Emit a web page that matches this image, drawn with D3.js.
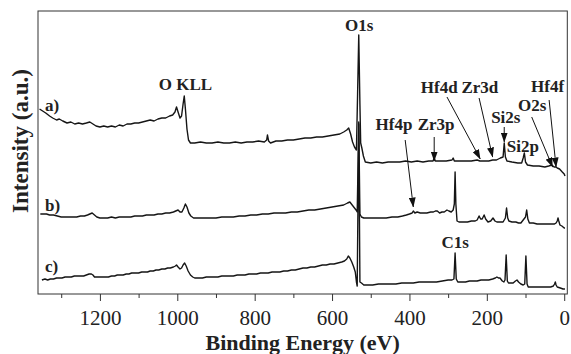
<!DOCTYPE html>
<html>
<head>
<meta charset="utf-8">
<script src="https://cdn.jsdelivr.net/npm/d3@7"></script>
<style>
  body { margin: 0; background: #fff; }
  svg { display: block; }
  .axis text { font-family: "Liberation Serif", "Times New Roman", serif; fill: #222; }
  .lbl { font-family: "Liberation Serif", "Times New Roman", serif; font-weight: bold; fill: #222; }
</style>
</head>
<body>
<svg id="chart" width="571" height="354"></svg>
<script>
// binding energy (eV), intensity (a.u.) pairs
const seriesA = [[1356,185],[1348,183],[1340,181],[1330,178],[1322,176],[1312,174],[1305,175],[1296,173],[1285,171],[1275,172],[1265,170],[1255,171],[1245,170],[1235,171],[1226,172],[1218,170],[1210,168],[1200,167],[1190,168],[1180,167],[1170,168],[1160,167],[1150,169],[1140,168],[1130,170],[1120,170],[1110,171],[1100,171],[1090,172],[1080,173],[1070,174],[1060,173],[1050,175],[1040,176],[1030,176],[1020,178],[1012,179],[1006,182],[1002,187],[998,182],[993,176],[989,178],[985,190],[982,198],[979,185],[975,165],[971,154],[966,151],[955,151],[940,152],[925,151],[910,151],[895,152],[880,151],[865,151],[850,152],[835,151],[820,152],[805,152],[790,153],[775,152],[769,154],[767,159],[764,153],[759,151],[745,153],[730,153],[715,154],[700,154],[685,155],[670,156],[655,156],[640,157],[625,157],[610,158],[595,159],[580,160],[570,162],[562,164],[557,166],[552,160],[547,152],[542,147],[537,144],[534,200],[531,259],[528,190],[526,151],[523,146],[519,138],[514,132],[500,131],[485,132],[470,131],[455,132],[440,132],[425,132],[410,133],[395,132],[380,133],[365,132],[350,133],[339,133],[336,136],[333,133],[320,133],[305,133],[290,134],[287,136],[284,133],[270,133],[255,133],[240,133],[225,134],[218,133],[210,133],[195,133],[185,134],[175,134],[165,136],[158,137],[155,151],[152,137],[148,133],[135,132],[120,131],[110,131],[106,136],[103,141],[100,132],[95,129],[80,128],[65,128],[50,127],[40,128],[32,129],[26,127],[22,127],[18,126],[12,125],[5,122],[0,120],[-2,118]];

const seriesB = [[1354,80],[1345,80],[1338,80],[1330,79],[1320,79],[1310,78],[1300,77],[1290,77],[1280,77],[1270,77],[1260,77],[1250,78],[1240,78],[1232,79],[1226,80],[1220,81],[1214,79],[1208,77],[1200,76],[1190,76],[1180,76],[1170,77],[1160,76],[1150,77],[1140,77],[1130,77],[1120,77],[1110,78],[1100,78],[1090,78],[1080,79],[1070,79],[1060,79],[1050,80],[1040,80],[1030,81],[1020,81],[1010,82],[1004,83],[998,84],[993,82],[988,82],[983,86],[979,90],[975,87],[970,81],[965,78],[958,76],[945,76],[930,76],[915,76],[900,76],[885,77],[870,77],[855,77],[840,78],[825,78],[810,79],[795,79],[780,80],[765,80],[750,81],[735,81],[720,81],[705,82],[690,82],[675,83],[660,84],[645,84],[630,85],[615,86],[600,87],[585,88],[570,89],[560,91],[554,92],[548,89],[542,86],[538,84],[535,82],[531,172],[528,80],[524,77],[518,76],[505,76],[490,76],[475,76],[460,76],[445,77],[430,77],[418,78],[408,79],[400,80],[393,81],[390,83],[386,81],[380,82],[372,81],[365,81],[355,81],[345,82],[338,82],[333,83],[328,83],[322,81],[316,82],[310,82],[303,84],[298,83],[292,82],[287,84],[284,90],[282,122],[280,90],[277,73],[272,72],[260,72],[250,72],[240,73],[230,73],[225,74],[220,78],[216,75],[212,75],[207,79],[203,75],[197,72],[190,73],[184,76],[179,73],[174,72],[165,72],[158,72],[152,76],[149,86],[146,76],[143,73],[135,72],[125,72],[118,71],[112,71],[106,74],[100,77],[97,84],[94,75],[90,71],[80,71],[70,70],[60,70],[50,70],[40,70],[30,70],[25,70],[21,71],[18,73],[16,76],[14,73],[11,69],[6,68],[0,66],[-2,66]];

const seriesC = [[1350,14],[1342,15],[1335,14],[1328,15],[1320,15],[1312,16],[1305,16],[1298,16],[1290,17],[1282,17],[1274,17],[1266,18],[1258,18],[1250,18],[1242,18],[1235,19],[1228,20],[1222,20],[1218,19],[1214,17],[1208,17],[1200,17],[1192,17],[1185,17],[1178,17],[1170,18],[1162,18],[1155,19],[1148,19],[1140,19],[1132,20],[1125,20],[1118,21],[1110,21],[1100,21],[1092,22],[1085,22],[1077,22],[1070,23],[1062,23],[1055,24],[1048,24],[1040,25],[1032,25],[1025,26],[1018,26],[1010,27],[1005,28],[1002,29],[998,27],[993,25],[989,26],[985,29],[981,31],[977,28],[972,23],[966,19],[960,17],[955,16],[945,16],[935,16],[925,17],[915,17],[905,17],[895,17],[885,18],[875,18],[865,18],[855,18],[845,19],[835,19],[825,19],[815,20],[805,20],[795,20],[785,21],[775,21],[765,21],[755,22],[745,22],[735,22],[725,23],[715,23],[705,24],[695,24],[685,25],[675,26],[665,26],[655,27],[645,27],[635,28],[625,29],[615,29],[605,30],[595,30],[585,31],[575,32],[568,33],[562,35],[558,38],[554,36],[549,32],[544,27],[540,22],[537,12],[535,8],[531,170],[528,12],[524,11],[518,9],[508,9],[495,9],[480,10],[465,10],[450,10],[435,10],[420,11],[405,11],[390,11],[375,12],[360,12],[345,12],[330,12],[315,13],[300,14],[290,14],[285,15],[282,41],[279,15],[275,12],[265,12],[255,12],[245,13],[235,13],[225,13],[215,14],[205,14],[195,14],[185,15],[178,16],[174,17],[170,16],[166,16],[160,13],[156,12],[153,14],[150,39],[147,13],[144,11],[138,11],[132,11],[126,13],[122,14],[118,12],[112,10],[106,9],[102,10],[99,38],[96,10],[93,7],[85,7],[75,7],[65,7],[55,7],[45,7],[35,7],[28,8],[25,10],[23,12],[21,9],[18,7],[10,6],[3,5],[-2,5]];

const seriesNames = ["a)", "b)", "c)"];
const majorTicks = [1200, 1000, 800, 600, 400, 200, 0];
const minorTicks = [1300, 1100, 900, 700, 500, 300, 100];

// peak labels: text, energy (eV), intensity of baseline
const peakLabels = [
  ["O KLL", 979, 204], ["O1s", 530, 263],
  ["Hf4d", 323, 201], ["Zr3d", 218, 201], ["Hf4f", 43, 202],
  ["O2s", 83, 183], ["Si2s", 151, 171], ["Si2p", 107, 142],
  ["Hf4p", 440, 164], ["Zr3p", 331, 164], ["C1s", 282, 46]
];
// arrows: from [eV, int] to [eV, int]
const arrows = [
  [[336, 157], [336, 133]],
  [[411, 154], [390, 87]],
  [[303, 197], [217, 135]],
  [[220, 196], [185, 137]],
  [[155, 167], [155, 152]],
  [[84, 177], [30, 127]],
  [[39, 194], [21, 127]]
];

const svg = d3.select("#chart");
const mLeft = 38, mRight = 567.3, mTop = 11, mBottom = 294;

const x = d3.scaleLinear().domain([1360, -8]).range([mLeft, mRight]);
const y = d3.scaleLinear().domain([0, 283]).range([mBottom, mTop]);

const line = d3.line().x(d => x(d[0])).y(d => y(d[1]));

// arrow head
svg.append("defs").append("marker")
  .attr("id", "head")
  .attr("markerUnits", "userSpaceOnUse")
  .attr("markerWidth", 10).attr("markerHeight", 7)
  .attr("refX", 9.5).attr("refY", 3.5)
  .attr("orient", "auto")
  .append("path").attr("d", "M0,0L10,3.5L0,7Z").attr("fill", "#111");

// spectra
[seriesA, seriesB, seriesC].forEach(s => {
  svg.append("path")
    .datum(s)
    .attr("d", line)
    .attr("fill", "none")
    .attr("stroke", "#151515")
    .attr("stroke-width", 1.4)
    .attr("stroke-linejoin", "round");
});

// frame
svg.append("rect")
  .attr("x", mLeft).attr("y", mTop)
  .attr("width", mRight - mLeft).attr("height", mBottom - mTop)
  .attr("fill", "none").attr("stroke", "#333").attr("stroke-width", 1);

// x axis
const axis = svg.append("g").attr("class", "axis")
  .attr("transform", `translate(0,${mBottom})`)
  .call(d3.axisBottom(x).tickValues(majorTicks).tickSize(7).tickPadding(9.5).tickFormat(d3.format("d")));
axis.selectAll("text").style("font-size", "21px");
axis.select(".domain").remove();
axis.selectAll("line").attr("stroke", "#333");

const minor = svg.append("g")
  .attr("transform", `translate(0,${mBottom})`)
  .call(d3.axisBottom(x).tickValues(minorTicks).tickSize(4).tickFormat(""));
minor.select(".domain").remove();
minor.selectAll("line").attr("stroke", "#333");

// axis titles
svg.append("text").attr("class", "lbl")
  .attr("x", (mLeft + mRight) / 2).attr("y", 350)
  .attr("text-anchor", "middle").style("font-size", "22px")
  .text("Binding Energy (eV)");

svg.append("text").attr("class", "lbl")
  .attr("transform", "translate(28,141) rotate(-90)")
  .attr("text-anchor", "middle").style("font-size", "23px")
  .text("Intensity (a.u.)");

// series labels near the left end of each curve
const labelY = [111, 211, 272];
seriesNames.forEach((n, i) => {
  svg.append("text").attr("class", "lbl")
    .attr("x", 45).attr("y", labelY[i])
    .style("font-size", "17px")
    .text(n);
});

// peak labels
svg.selectAll(".peak").data(peakLabels).enter().append("text")
  .attr("class", "lbl peak")
  .attr("x", d => x(d[1])).attr("y", d => y(d[2]))
  .attr("text-anchor", "middle")
  .style("font-size", "17px")
  .text(d => d[0]);

// arrows
svg.selectAll(".arrow").data(arrows).enter().append("line")
  .attr("class", "arrow")
  .attr("x1", d => x(d[0][0])).attr("y1", d => y(d[0][1]))
  .attr("x2", d => x(d[1][0])).attr("y2", d => y(d[1][1]))
  .attr("stroke", "#111").attr("stroke-width", 1)
  .attr("marker-end", "url(#head)");
</script>
</body>
</html>
